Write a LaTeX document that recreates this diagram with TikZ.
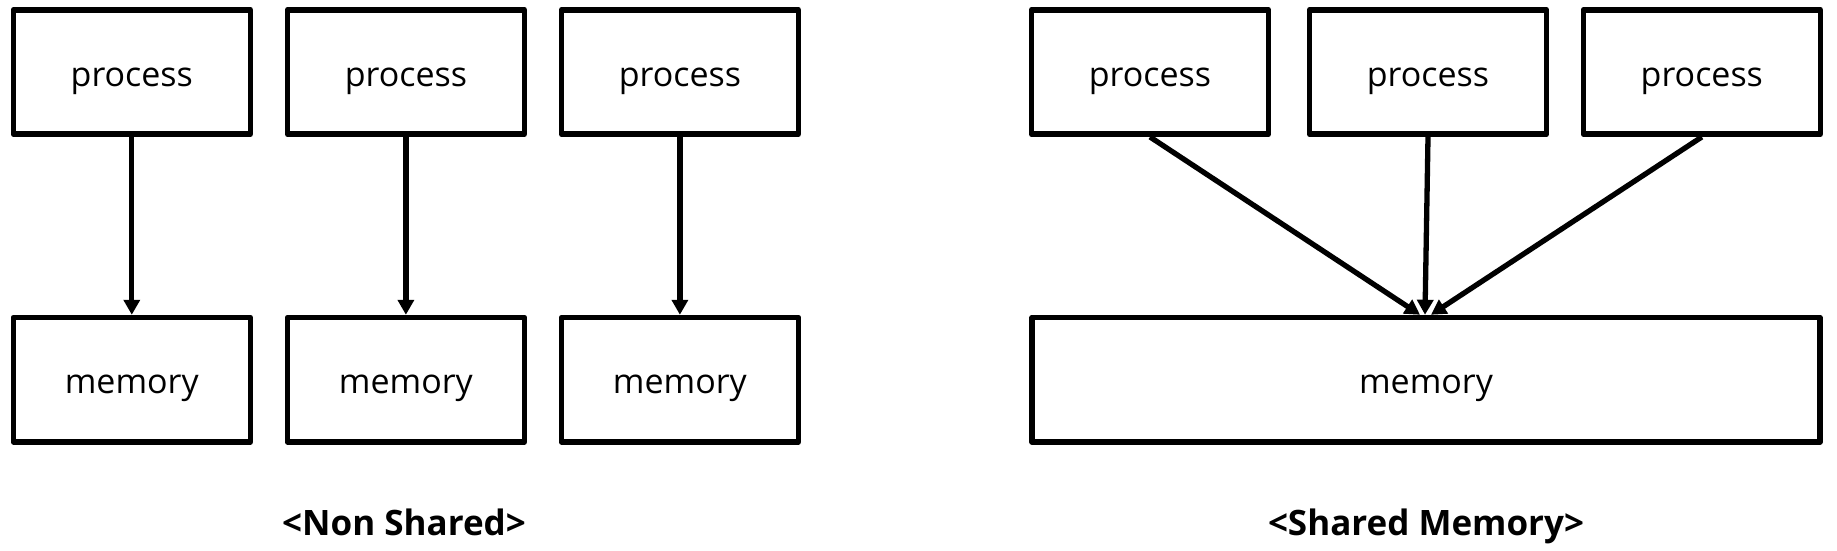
\documentclass[tikz,border=0pt]{standalone}
\usepackage{fontspec}
\setmainfont{Open Sans}
\usetikzlibrary{arrows.meta}
\begin{document}
\begin{tikzpicture}[x=1pt,y=1pt,
  box/.style={draw=black, line width=5.5pt, line join=round, inner sep=0pt,
    minimum width=237pt, minimum height=124.4pt,
    font=\fontsize{34}{34}\selectfont, text height=30pt, text depth=2pt},
  widebox/.style={box, minimum width=788pt},
  conn/.style={line width=5.3pt, -{Triangle[length=15pt,width=16pt]}},
  grouplabel/.style={anchor=base, inner sep=0pt, font=\fontsize{35}{35}\selectfont\bfseries}
]
\useasboundingbox (0,0) rectangle (1837,-550);
% left: non shared
\node[box] (p1) at (131.8,-72) {process};
\node[box] (p2) at (405.9,-72) {process};
\node[box] (p3) at (679.9,-72) {process};
\node[box] (m1) at (131.8,-379.7) {memory};
\node[box] (m2) at (405.9,-379.7) {memory};
\node[box] (m3) at (679.9,-379.7) {memory};
\draw[conn] (p1.south) -- (m1.north);
\draw[conn] (p2.south) -- (m2.north);
\draw[conn] (p3.south) -- (m3.north);
% right: shared memory
\node[box] (q1) at (1150,-72) {process};
\node[box] (q2) at (1428,-72) {process};
\node[box] (q3) at (1701.8,-72) {process};
\node[widebox] (sm) at (1426,-379.7) {memory};
\draw[conn] (q1.south) -- ([xshift=-6pt]sm.north);
\draw[conn] (q2.south) -- ([xshift=-1pt]sm.north);
\draw[conn] (q3.south) -- ([xshift=5pt]sm.north);
% captions
\node[grouplabel] (l1) at (404,-535.5) {<Non Shared>};
\node[grouplabel] (l2) at (1426,-535.5) {<Shared Memory>};
\end{tikzpicture}
\end{document}
